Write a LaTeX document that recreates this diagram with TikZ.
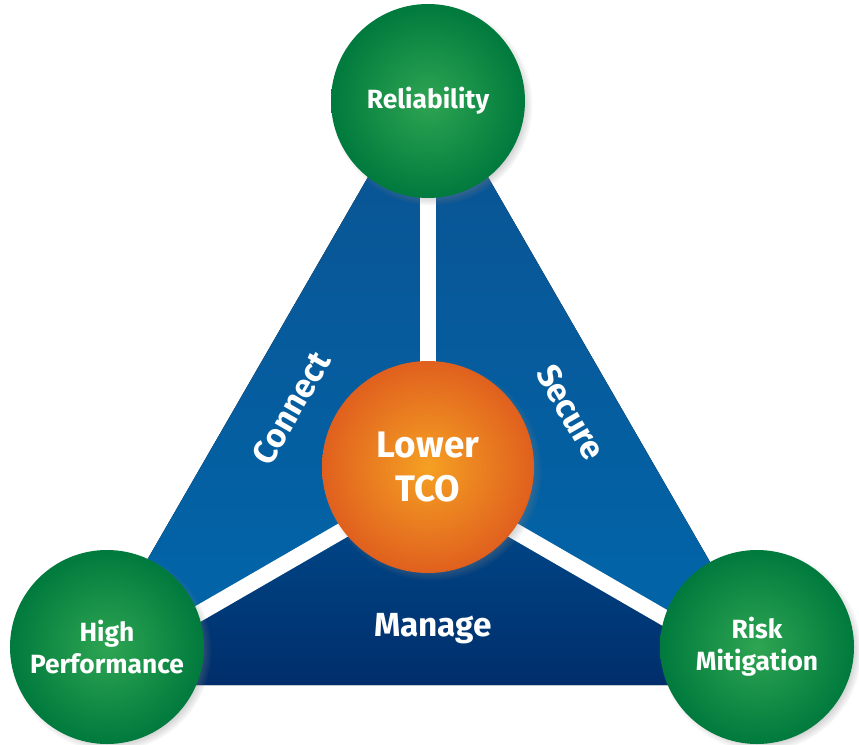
\documentclass[tikz,border=0pt]{standalone}
\usepackage{fontspec}
\setmainfont{Fira Sans}
\usetikzlibrary{shadows}
\definecolor{ringgreen}{HTML}{007A3D}
\definecolor{ringgreenlight}{HTML}{2EA552}
\definecolor{coreorange}{HTML}{E0601E}
\definecolor{coreorangelight}{HTML}{F5A023}
\definecolor{sideblue}{HTML}{0067AB}
\definecolor{sidebluedark}{HTML}{0B5291}
\definecolor{basebluetop}{HTML}{004C8E}
\definecolor{basebluebottom}{HTML}{002E6B}
\tikzset{
  pillar/.style={circle, minimum size=3.88cm, inner sep=0pt, align=center,
    inner color=ringgreenlight, outer color=ringgreen, text=white,
    font=\bfseries\fontsize{15}{18}\selectfont,
    circular drop shadow={shadow xshift=0.07cm, shadow yshift=-0.07cm, shadow scale=1.04, opacity=0.55}},
  core/.style={circle, minimum size=4.24cm, inner sep=0pt, align=center,
    inner color=coreorangelight, outer color=coreorange, text=white,
    font=\bfseries\fontsize{21}{25}\selectfont,
    circular drop shadow={shadow xshift=0.07cm, shadow yshift=-0.07cm, shadow scale=1.04, opacity=0.55}},
  side/.style={top color=sidebluedark, bottom color=sideblue},
  base/.style={top color=basebluetop, bottom color=basebluebottom},
  gap/.style={white, line width=0.32cm},
  tag/.style={text=white, inner sep=1pt, font=\bfseries\fontsize{19}{22}\selectfont}
}
\begin{document}
\begin{tikzpicture}
  \useasboundingbox (0,0) rectangle (17.18,14.88);
  % Corners of the triangle
  \coordinate (apex) at (8.56,13.42);
  \coordinate (left) at (1.50,1.18);
  \coordinate (right) at (15.62,1.18);
  \coordinate (mid) at (8.56,5.26);
  % Blue regions
  \fill[side] (apex) -- (mid) -- (left) -- cycle;
  \fill[side] (apex) -- (right) -- (mid) -- cycle;
  \fill[base] (left) -- (mid) -- (right) -- cycle;
  % White gaps
  \draw[gap] (mid) -- (apex);
  \draw[gap] (mid) -- (left);
  \draw[gap] (mid) -- (right);
  % Labels on the regions
  \node (connect) [tag, rotate=60] at (5.82,6.72) {Connect};
  \node (secure) [tag, rotate=-60] at (11.42,6.64) {Secure};
  \node (manage) [tag] at (8.66,2.30) {Manage};
  % Circles
  \node (reliability) [pillar] at (8.56,12.86) {Reliability};
  \node (performance) [pillar] at (2.14,1.94) {High\\Performance};
  \node (risk) [pillar] at (15.14,1.94) {Risk\\Mitigation};
  \node (tco) [core] at (8.56,5.54) {Lower\\TCO};
\end{tikzpicture}
\end{document}
